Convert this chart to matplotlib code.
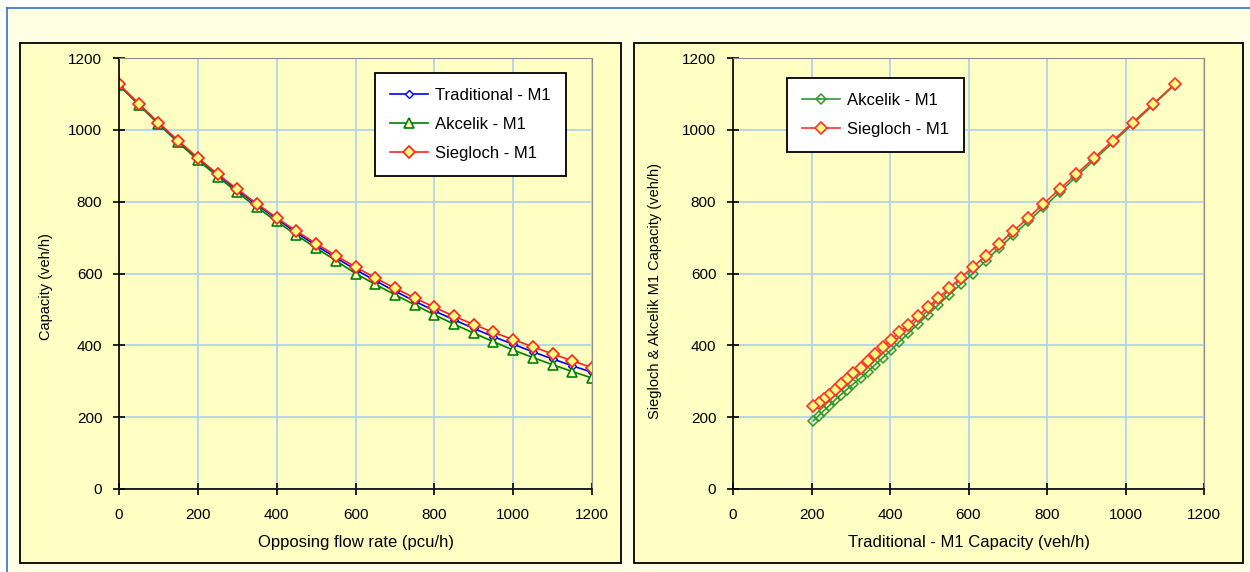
import matplotlib
matplotlib.use("Agg")
import matplotlib.pyplot as plt
from matplotlib.lines import Line2D

plt.rcParams['font.family'] = ['Liberation Sans', 'DejaVu Sans']

# opposing flow rate (pcu/h)
flow = [0, 50, 100, 150, 200, 250, 300, 350, 400, 450, 500, 550, 600,
        650, 700, 750, 800, 850, 900, 950, 1000, 1050, 1100, 1150, 1200,
        1250, 1300, 1350, 1400, 1450, 1500, 1550, 1600]
# capacities (veh/h)
traditional = [1125, 1071, 1018, 968, 920, 875, 832, 791, 752, 714, 678, 644, 611,
               580, 551, 523, 496, 471, 447, 424, 403, 382, 362, 343, 325,
               307, 290, 274, 259, 245, 231, 218, 205]
akcelik = [1125, 1070, 1016, 965, 916, 870, 826, 784, 745, 707, 671, 636, 600,
           570, 541, 513, 485, 459, 434, 410, 387, 366, 346, 327, 309,
           293, 277, 262, 247, 232, 218, 204, 190]
siegloch = [1127, 1073, 1020, 970, 922, 877, 835, 794, 755, 718, 683, 650, 618,
            588, 559, 532, 506, 481, 458, 436, 416, 396, 376, 357, 338,
            322, 306, 291, 277, 263, 250, 239, 230]

n_left = 25  # left chart stops at 1200 pcu/h

W, H = 1250, 572
fig = plt.figure(figsize=(W / 100, H / 100), dpi=100)
fig.patch.set_facecolor('white')

# outer cream panel with blue top/left edge
fig.patches.append(plt.Rectangle((7 / W, 0), 1 - 7 / W, (H - 8) / H, transform=fig.transFigure,
                                 facecolor='#FFFFE3', edgecolor='none', zorder=-3))
fig.add_artist(Line2D([7 / W, 1], [(H - 8) / H] * 2, color='#2E75C8', lw=1.2, zorder=-2))
fig.add_artist(Line2D([7 / W, 7 / W], [0, (H - 8) / H], color='#2E75C8', lw=1.2, zorder=-2))

# chart area boxes
for x0, x1 in [(20, 621), (634, 1243)]:
    fig.patches.append(plt.Rectangle((x0 / W, (H - 563) / H), (x1 - x0) / W, (563 - 43) / H,
                                     transform=fig.transFigure, facecolor='#FFFFC4',
                                     edgecolor='black', lw=1.3, zorder=-1))

yellow = '#FFFFC4'
grid_c = '#B4D2EE'
tick_fs = 11
lab_fs = 12
leg_fs = 12


def style(ax):
    ax.set_facecolor(yellow)
    ax.set_xlim(0, 1200)
    ax.set_ylim(0, 1200)
    ax.set_xticks(range(0, 1201, 200))
    ax.set_yticks(range(0, 1201, 200))
    ax.grid(True, color=grid_c, lw=1.3)
    ax.set_axisbelow(True)
    for s in ['top', 'right']:
        ax.spines[s].set_color('#8C8C8C')
    for s in ['left', 'bottom']:
        ax.spines[s].set_color('black')
        ax.spines[s].set_linewidth(1.2)
    ax.tick_params(direction='inout', length=8, width=1.2, labelsize=tick_fs,
                   colors='black')
    ax.tick_params(axis='x', pad=10)
    ax.tick_params(axis='y', pad=8)


def legend(ax, x, y):
    leg = ax.legend(loc='upper left', bbox_to_anchor=(x, y), fontsize=leg_fs,
                    frameon=True, fancybox=False, edgecolor='black', framealpha=1,
                    handlelength=2.3, labelspacing=0.85, borderpad=0.9,
                    handletextpad=0.4, borderaxespad=0)
    leg.get_frame().set_linewidth(1.3)


ax1 = fig.add_axes([119 / W, (H - 489) / H, 473 / W, 431 / H])
style(ax1)
ax1.plot(flow[:n_left], traditional[:n_left], color='#0000FF', lw=1.2, marker='D', ms=4,
         mfc='white', mec='#0000FF', mew=1, label='Traditional - M1')
ax1.plot(flow[:n_left], akcelik[:n_left], color='#008000', lw=1.2, marker='^', ms=7,
         mfc=yellow, mec='#008000', mew=1.2, label='Akcelik - M1')
ax1.plot(flow[:n_left], siegloch[:n_left], color='#FF2020', lw=1.2, marker='D', ms=6,
         mfc='#FFFF80', mec='#FF2020', mew=1.2, label='Siegloch - M1')
ax1.set_xlabel('Opposing flow rate (pcu/h)', fontsize=lab_fs, labelpad=9)
ax1.set_ylabel('Capacity (veh/h)', fontsize=10.5)
ax1.yaxis.set_label_coords(-0.14, 0.47)
legend(ax1, 256 / 473, 1 - 15 / 431)

ax2 = fig.add_axes([733 / W, (H - 489) / H, 471 / W, 431 / H])
style(ax2)
ax2.plot(traditional, akcelik, color='#2E9A2E', lw=1.2, marker='D', ms=5,
         mfc='none', mec='#2E9A2E', mew=1.1, label='Akcelik - M1')
ax2.plot(traditional, siegloch, color='#FF3030', lw=1.2, marker='D', ms=6,
         mfc='#FFFF80', mec='#FF3030', mew=1.2, label='Siegloch - M1')
ax2.set_xlabel('Traditional - M1 Capacity (veh/h)', fontsize=lab_fs, labelpad=9)
ax2.set_ylabel('Siegloch & Akcelik M1 Capacity (veh/h)', fontsize=10.5)
ax2.yaxis.set_label_coords(-0.15, 0.46)
legend(ax2, 54 / 471, 1 - 20 / 431)

plt.savefig("out.png", dpi=100, facecolor=fig.get_facecolor())
